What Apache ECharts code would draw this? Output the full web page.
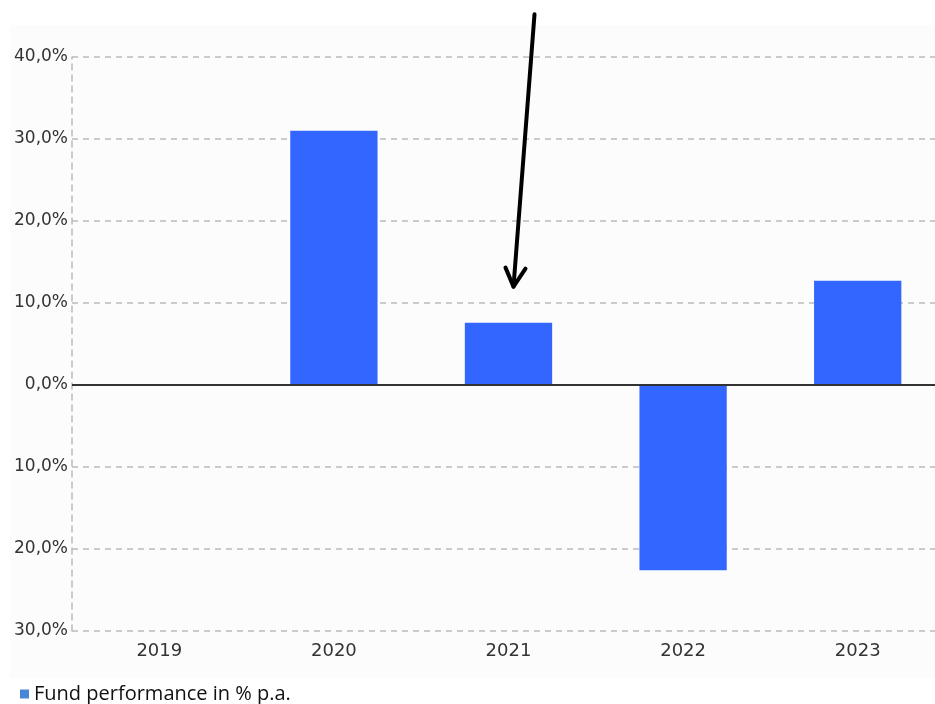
<!DOCTYPE html>
<html>
<head>
<meta charset="utf-8">
<script src="https://cdn.jsdelivr.net/npm/echarts@6/dist/echarts.min.js"></script>
<style>
html,body{margin:0;padding:0;background:#fff;overflow:hidden;width:935px;height:704px;}
#c{width:945px;height:704px;}
</style>
</head>
<body>
<div id="c"></div>
<script>
var categories = ['2019', '2020', '2021', '2022', '2023'];
var fundPerformance = [null, 31.0, 7.6, -22.6, 12.7];
var seriesName = 'Fund performance in % p.a.';
var yMin = -30, yMax = 40, yStep = 10;
// arrow annotation pointing at the 2021 bar (category, value)
var arrowCategory = '2021';
var arrowTipValue = 12;
var arrowTailValue = 45.2;

var chart = echarts.init(document.getElementById('c'));
var fmt = function (v) { return Math.abs(v).toFixed(1).replace('.', ',') + '%'; };

chart.setOption({
  animation: false,
  backgroundColor: '#ffffff',
  grid: { left: 72, top: 57, bottom: 73, right: 0, show: false },
  legend: {
    data: [{ name: seriesName, itemStyle: { color: '#4a86d6' } }],
    left: 15, top: 678,
    icon: 'rect', itemWidth: 9, itemHeight: 9, itemGap: 6,
    textStyle: { fontFamily: 'Open Sans', fontSize: 20, color: '#111', lineHeight: 22 }
  },
  xAxis: {
    type: 'category',
    data: categories,
    axisLine: { show: false },
    axisTick: { show: false },
    splitLine: { show: false },
    axisLabel: { margin: 11, fontFamily: 'DejaVu Sans', fontSize: 18, color: '#333' }
  },
  yAxis: {
    type: 'value',
    min: yMin, max: yMax, interval: yStep,
    axisLine: { show: true, lineStyle: { color: '#bbb', type: [6, 5], width: 1.5 } },
    axisTick: { show: false },
    splitLine: { show: true, lineStyle: { color: '#bbb', type: [6, 5], width: 1.5 } },
    axisLabel: { margin: 4, formatter: fmt, fontFamily: 'DejaVu Sans', fontSize: 17, color: '#333' }
  },
  series: [{
    name: seriesName,
    type: 'bar',
    data: fundPerformance,
    barWidth: '50%',
    itemStyle: { color: '#3366ff' },
    markLine: {
      silent: true,
      symbol: 'none',
      label: { show: false },
      lineStyle: { color: '#333', type: 'solid', width: 2 },
      data: [{ yAxis: 0 }]
    }
  }]
});

function drawArrow() {
  var tip = chart.convertToPixel({ gridIndex: 0 }, [arrowCategory, arrowTipValue]);
  var tail = chart.convertToPixel({ gridIndex: 0 }, [arrowCategory, arrowTailValue]);
  var tx = tip[0] + 5, ty = tip[1];
  var sx = tail[0] + 26, sy = tail[1];
  chart.setOption({
    graphic: [
      { type: 'rect', z: -10, silent: true, shape: { x: 10, y: 25, width: 935, height: 653 }, style: { fill: '#fcfcfc' } },
      { type: 'line', z: 100, shape: { x1: sx, y1: sy, x2: tx, y2: ty }, style: { stroke: '#000', lineWidth: 4, lineCap: 'round' } },
      { type: 'polyline', z: 100, shape: { points: [[tx - 8, ty - 19], [tx, ty], [tx + 12, ty - 18]] }, style: { stroke: '#000', lineWidth: 4, fill: null, lineCap: 'round', lineJoin: 'round' } }
    ]
  });
}
drawArrow();
</script>
</body>
</html>
